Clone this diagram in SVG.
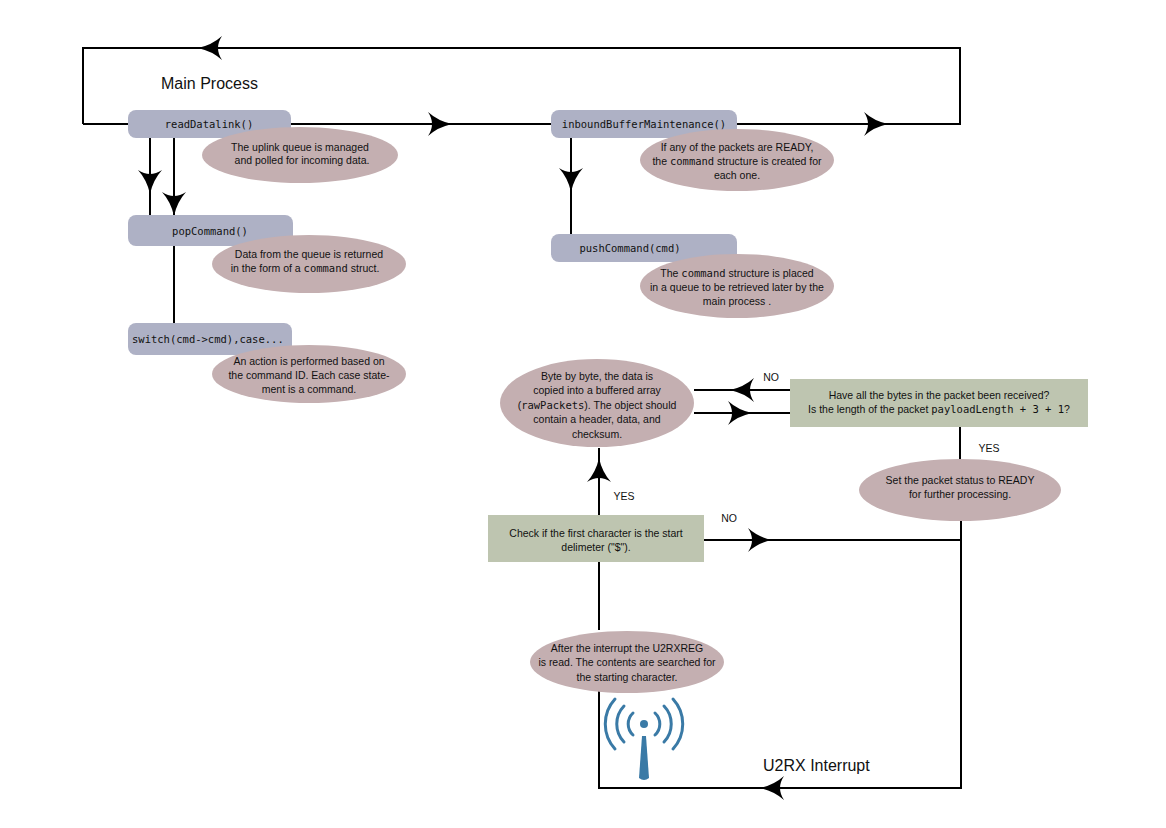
<svg xmlns="http://www.w3.org/2000/svg" xmlns:xlink="http://www.w3.org/1999/xlink" width="1166" height="828" viewBox="0 0 1166 828">
<style>
.b{fill:#aeb1c5}
.e{fill:#c4afb1}
.g{fill:#bec5b0}
.l{fill:none;stroke:#000;stroke-width:2}
.t{font-family:"Liberation Sans",Arial,sans-serif;font-size:10.5px;fill:#111;text-anchor:middle}
.m{font-family:"DejaVu Sans Mono",monospace;font-size:10.5px;fill:#111}
.h{font-family:"Liberation Sans",Arial,sans-serif;font-size:16px;fill:#111}
</style>
<defs>
<path id="a" d="M0 0 Q-14 -3 -24 -12 Q-16 0 -24 12 Q-14 3 0 0Z" fill="#000"/>
</defs>
<rect width="1166" height="828" fill="#fff"/>
<g id="connectors">
<path class="l" d="M83 124V48H960V124H83"/>
<path class="l" d="M150 138V216M174 138V216M174 246V324M571 138V235"/>
<path class="l" d="M694 390H790M694 413H790M960 427V474M961 520V788H599V690M599 630V562M599 515V448M704 540H961"/>
<use xlink:href="#a" transform="translate(198,48) rotate(180)"/>
<use xlink:href="#a" transform="translate(452,124)"/>
<use xlink:href="#a" transform="translate(888,124)"/>
<use xlink:href="#a" transform="translate(150,194) rotate(90)"/>
<use xlink:href="#a" transform="translate(174,216) rotate(90)"/>
<use xlink:href="#a" transform="translate(571,192) rotate(90)"/>
<use xlink:href="#a" transform="translate(730,390) rotate(180)"/>
<use xlink:href="#a" transform="translate(752,413)"/>
<use xlink:href="#a" transform="translate(772,540)"/>
<use xlink:href="#a" transform="translate(760,788) rotate(180)"/>
<use xlink:href="#a" transform="translate(599,458) rotate(-90)"/>
</g>
<text class="h" x="161" y="89">Main Process</text>
<text class="h" x="763" y="771">U2RX Interrupt</text>
<g id="readDatalink"><rect class="b" x="128" y="110" width="163" height="28" rx="8"/><text class="m" x="209" y="128" text-anchor="middle">readDatalink()</text></g>
<g id="note1"><ellipse class="e" cx="300" cy="155" rx="98" ry="28"/><text class="t" x="300" y="151">The uplink queue is managed</text><text class="t" x="302" y="164">and polled for incoming data.</text></g>
<g id="popCommand"><rect class="b" x="128" y="215" width="165" height="31" rx="8"/><text class="m" x="210" y="235" text-anchor="middle">popCommand()</text></g>
<g id="note2"><ellipse class="e" cx="309" cy="264" rx="97" ry="29"/><text class="t" x="309" y="258">Data from the queue is returned</text><text class="t" x="305" y="272">in the form of a <tspan class="m">command</tspan>  struct.</text></g>
<g id="switch"><rect class="b" x="128" y="323" width="164" height="32" rx="8"/><text class="m" x="132" y="343">switch(cmd-&gt;cmd),case...</text></g>
<g id="note3"><ellipse class="e" cx="309" cy="374" rx="97" ry="29"/><text class="t" x="309" y="365">An action is performed based on</text><text class="t" x="309" y="379">the command ID. Each case state-</text><text class="t" x="309" y="393">ment is a command.</text></g>
<g id="inbound"><rect class="b" x="551" y="110" width="186" height="28" rx="8"/><text class="m" x="644" y="128" text-anchor="middle">inboundBufferMaintenance()</text></g>
<g id="note4"><ellipse class="e" cx="737" cy="160" rx="97" ry="31"/><text class="t" x="737" y="151">If any of the packets are READY,</text><text class="t" x="737" y="165">the <tspan class="m">command</tspan>  structure is created for</text><text class="t" x="737" y="179">each one.</text></g>
<g id="pushCommand"><rect class="b" x="551" y="234" width="186" height="28" rx="8"/><text class="m" x="630" y="252" text-anchor="middle">pushCommand(cmd)</text></g>
<g id="note5"><ellipse class="e" cx="737" cy="286" rx="97" ry="32"/><text class="t" x="737" y="277">The <tspan class="m">command</tspan> structure is placed</text><text class="t" x="737" y="291">in a queue to be retrieved later by the</text><text class="t" x="737" y="305">main process .</text></g>
<g id="byte"><ellipse class="e" cx="597" cy="403" rx="97" ry="44"/><text class="t" x="597" y="380">Byte by byte, the data is</text><text class="t" x="597" y="394">copied into a buffered array</text><text class="t" x="597" y="409">(<tspan class="m">rawPackets</tspan>). The object should</text><text class="t" x="597" y="423">contain a header, data, and</text><text class="t" x="597" y="438">checksum.</text></g>
<g id="check-bytes"><rect class="g" x="790" y="379" width="298" height="48"/><text class="t" x="939" y="399">Have all the bytes in the packet been received?</text><text class="t" x="939" y="413">Is the length of the packet <tspan class="m">payloadLength + 3 + 1</tspan>?</text></g>
<g id="ready"><ellipse class="e" cx="960" cy="490" rx="101" ry="31"/><text class="t" x="960" y="484">Set the packet status to READY</text><text class="t" x="960" y="498">for further processing.</text></g>
<g id="check-start"><rect class="g" x="488" y="515" width="216" height="47"/><text class="t" x="596" y="537">Check if the first character is the start</text><text class="t" x="596" y="551">delimeter ("$").</text></g>
<g id="after"><ellipse class="e" cx="627" cy="662" rx="97" ry="31"/><text class="t" x="627" y="652">After the interrupt the U2RXREG</text><text class="t" x="627" y="666">is read. The contents are searched for</text><text class="t" x="627" y="681">the starting character.</text></g>
<g id="labels" class="t">
<text class="t" x="771" y="381">NO</text><text class="t" x="989" y="452">YES</text><text class="t" x="729" y="522">NO</text><text class="t" x="624" y="500">YES</text>
</g>
<g id="antenna" stroke="#3a7aa6" stroke-width="3" fill="none" stroke-linecap="round">
<circle cx="644" cy="724" r="4" fill="#3a7aa6" stroke="none"/>
<path d="M633 713A15 15 0 0 0 633 735M655 713A15 15 0 0 1 655 735M624 706A26 26 0 0 0 624 742M664 706A26 26 0 0 1 664 742M615 699A37 37 0 0 0 615 749M673 699A37 37 0 0 1 673 749"/>
<path d="M642 736L639 778Q644 782 649 778L646 736Z" fill="#3a7aa6" stroke="none"/>
</g>
</svg>
